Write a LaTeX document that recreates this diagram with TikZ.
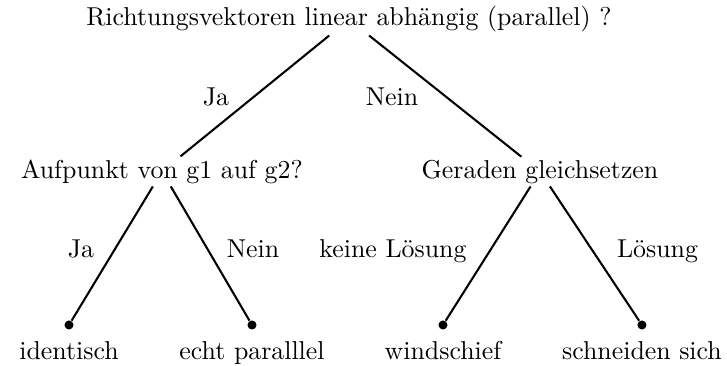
\documentclass[tikz,border=0pt]{standalone}
\begin{document}
\begin{tikzpicture}[
    txt/.style={anchor=base,inner sep=1pt},
    leaf/.style={circle,fill,inner sep=0pt,minimum size=3.5pt}]
  \useasboundingbox (0,0) rectangle (9.883,-4.975);
      \draw
        (4.744,-0.353) node[txt] (0){Richtungsvektoren linear abhängig (parallel) ?}
        (2.202,-2.420) node[txt] (1){Aufpunkt von g1 auf g2?}
        (7.341,-2.420) node[txt] (2){Geraden gleichsetzen}
        (0.938,-4.418) node[leaf] (3){}
        (3.426,-4.418) node[leaf] (4){}
        (6.022,-4.418) node[leaf] (5){}
        (8.727,-4.418) node[leaf] (6){};
      \draw
        (0.938,-4.894) node[txt] (t3){identisch}
        (3.426,-4.894) node[txt] (t4){echt paralllel}
        (6.022,-4.894) node[txt] (t5){windschief}
        (8.727,-4.894) node[txt] (t6){schneiden sich};
      \draw
        (2.936,-1.441) node[txt] (e1){Ja}
        (5.329,-1.441) node[txt] (e2){Nein}
        (1.101,-3.494) node[txt] (e3){Ja}
        (3.439,-3.494) node[txt] (e4){Nein}
        (5.342,-3.494) node[txt] (e5){keine Lösung}
        (8.938,-3.494) node[txt] (e6){Lösung};
      \begin{scope}[thick]
        \draw (0) to (1);
        \draw (0) to (2);
        \draw (1) to (3);
        \draw (1) to (4);
        \draw (2) to (5);
        \draw (2) to (6);
      \end{scope}
    \end{tikzpicture}
\end{document}
